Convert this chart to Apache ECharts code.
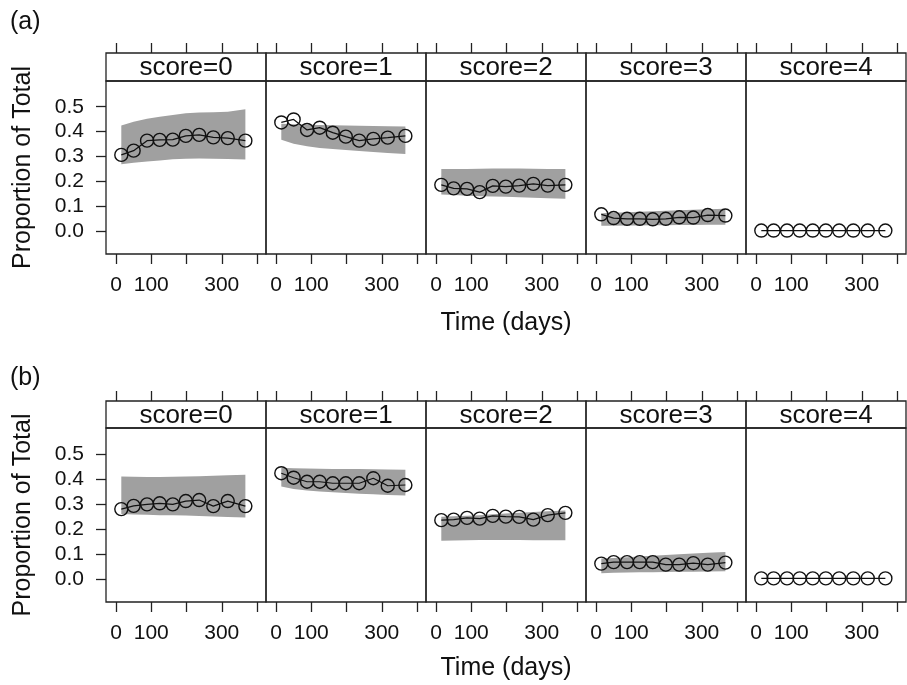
<!DOCTYPE html>
<html>
<head>
<meta charset="utf-8">
<script src="https://cdn.jsdelivr.net/npm/echarts@6/dist/echarts.min.js"></script>
<style>
html, body { margin: 0; padding: 0; background: #fff; }
#chart { width: 907px; height: 685px; }
</style>
</head>
<body>
<div id="chart"></div>
<script>
// 时间点 (days) 与刻度
const times = [15, 50, 88, 124, 161, 198, 236, 276, 317, 367];
const scores = ['score=0', 'score=1', 'score=2', 'score=3', 'score=4'];
const xTicks = [0, 100, 200, 300, 400];
const xLabels = [0, 100, 300];
const yTicks = [0, 0.1, 0.2, 0.3, 0.4, 0.5];

// (a) observed proportions and band
const obsA = [
    [0.307, 0.324, 0.364, 0.367, 0.368, 0.383, 0.387, 0.377, 0.374, 0.364],
    [0.437, 0.449, 0.407, 0.416, 0.396, 0.380, 0.364, 0.371, 0.376, 0.383],
    [0.187, 0.173, 0.171, 0.158, 0.183, 0.180, 0.184, 0.191, 0.184, 0.187],
    [0.069, 0.054, 0.051, 0.051, 0.049, 0.051, 0.057, 0.056, 0.066, 0.064],
    [0.004, 0.004, 0.004, 0.004, 0.004, 0.004, 0.004, 0.004, 0.004, 0.004]
];
const upA = [
    [0.425, 0.440, 0.452, 0.460, 0.467, 0.474, 0.477, 0.478, 0.480, 0.490],
    [0.432, 0.430, 0.428, 0.427, 0.426, 0.425, 0.424, 0.423, 0.422, 0.421],
    [0.250, 0.250, 0.250, 0.251, 0.252, 0.252, 0.252, 0.251, 0.250, 0.250],
    [0.073, 0.075, 0.077, 0.079, 0.081, 0.083, 0.085, 0.087, 0.089, 0.091],
    null
];
const loA = [
    [0.270, 0.276, 0.281, 0.285, 0.290, 0.292, 0.293, 0.292, 0.291, 0.289],
    [0.368, 0.352, 0.342, 0.335, 0.331, 0.327, 0.323, 0.319, 0.315, 0.311],
    [0.148, 0.146, 0.143, 0.141, 0.140, 0.139, 0.137, 0.135, 0.133, 0.131],
    [0.023, 0.023, 0.024, 0.024, 0.025, 0.025, 0.026, 0.026, 0.027, 0.027],
    null
];

// (b) observed proportions and band
const obsB = [
    [0.280, 0.293, 0.299, 0.303, 0.299, 0.312, 0.316, 0.292, 0.312, 0.292],
    [0.423, 0.405, 0.389, 0.389, 0.383, 0.383, 0.383, 0.403, 0.373, 0.376],
    [0.236, 0.238, 0.245, 0.242, 0.253, 0.250, 0.249, 0.238, 0.256, 0.265],
    [0.063, 0.069, 0.069, 0.069, 0.069, 0.059, 0.059, 0.065, 0.059, 0.067],
    [0.004, 0.004, 0.004, 0.004, 0.004, 0.004, 0.004, 0.004, 0.004, 0.004]
];
const upB = [
    [0.410, 0.409, 0.408, 0.408, 0.409, 0.410, 0.411, 0.413, 0.415, 0.417],
    [0.445, 0.443, 0.442, 0.441, 0.440, 0.440, 0.440, 0.439, 0.438, 0.437],
    [0.250, 0.252, 0.254, 0.256, 0.259, 0.262, 0.265, 0.268, 0.271, 0.274],
    [0.083, 0.085, 0.088, 0.091, 0.094, 0.097, 0.100, 0.103, 0.106, 0.109],
    null
];
const loB = [
    [0.260, 0.258, 0.257, 0.256, 0.256, 0.255, 0.253, 0.251, 0.249, 0.247],
    [0.370, 0.360, 0.354, 0.350, 0.347, 0.344, 0.341, 0.339, 0.336, 0.334],
    [0.154, 0.155, 0.156, 0.157, 0.157, 0.157, 0.157, 0.156, 0.156, 0.156],
    [0.025, 0.026, 0.027, 0.028, 0.028, 0.029, 0.030, 0.030, 0.031, 0.032],
    null
];

const rowsData = [
    { tag: '(a)', obs: obsA, up: upA, lo: loA },
    { tag: '(b)', obs: obsB, up: upB, lo: loB }
];

// 布局
const FONT = '"Liberation Sans", Arial, sans-serif';
const INK = '#111';
const colLeft = 106, colW = 160;
const rowLayout = [
    { stripTop: 53, plotTop: 81, plotBottom: 254, tagY: 22, titleY: 323 },
    { stripTop: 401, plotTop: 428, plotBottom: 602, tagY: 378, titleY: 668 }
];
const xMin = -28.4, xMax = 425.5;
const yMin = -0.09, yMax = 0.603;
const tickStyle = { color: '#222', width: 1.3 };

const grids = [], xAxes = [], yAxes = [], series = [], graphics = [];

// 区间带: 用 custom series 画成一个多边形
function bandRenderer(lo, up) {
    return function (params, api) {
        if (params.dataIndex !== 0) return null;
        const pts = [];
        for (let i = 0; i < times.length; i++) pts.push(api.coord([times[i], up[i]]));
        for (let i = times.length - 1; i >= 0; i--) pts.push(api.coord([times[i], lo[i]]));
        return { type: 'polygon', shape: { points: pts }, style: { fill: '#a0a0a0' } };
    };
}

rowsData.forEach((row, r) => {
    const L = rowLayout[r];
    scores.forEach((label, c) => {
        const left = colLeft + c * colW;
        // strip grid
        const si = grids.length;
        grids.push({
            left: left, top: L.stripTop, width: colW, height: L.plotTop - L.stripTop,
            show: true, borderColor: '#222', borderWidth: 1.3, backgroundColor: 'transparent',
            outerBoundsMode: 'none', containLabel: false
        });
        xAxes.push({
            gridIndex: si, type: 'value', position: 'top', min: xMin, max: xMax,
            axisLine: { show: false, onZero: false }, splitLine: { show: false },
            axisTick: { show: true, inside: false, length: 10, customValues: xTicks, lineStyle: tickStyle },
            axisLabel: { show: false }
        });
        yAxes.push({ gridIndex: si, type: 'value', show: false, min: 0, max: 1, axisLine: { onZero: false } });
        // plot grid
        const pi = grids.length;
        grids.push({
            left: left, top: L.plotTop, width: colW, height: L.plotBottom - L.plotTop,
            show: true, borderColor: '#222', borderWidth: 1.3, backgroundColor: 'transparent',
            outerBoundsMode: 'none', containLabel: false
        });
        xAxes.push({
            gridIndex: pi, type: 'value', position: 'bottom', min: xMin, max: xMax,
            axisLine: { show: false, onZero: false }, splitLine: { show: false },
            axisTick: { show: true, inside: false, length: 10, customValues: xTicks, lineStyle: tickStyle },
            axisLabel: { show: true, customValues: xLabels, margin: 21, fontSize: 21, color: INK, fontFamily: FONT }
        });
        yAxes.push({
            gridIndex: pi, type: 'value', position: 'left', min: yMin, max: yMax, show: c === 0,
            axisLine: { show: false, onZero: false }, splitLine: { show: false },
            axisTick: { show: true, inside: false, length: 10, customValues: yTicks, lineStyle: tickStyle },
            axisLabel: { show: true, customValues: yTicks, margin: 22, fontSize: 21, color: INK, fontFamily: FONT,
                formatter: v => v.toFixed(1) }
        });

        // 灰色区间带
        const lo = row.lo[c], up = row.up[c];
        if (lo && up) {
            series.push({
                type: 'custom', xAxisIndex: pi, yAxisIndex: pi, silent: true, z: 1,
                data: times.map((t, i) => [t, lo[i], up[i]]),
                renderItem: bandRenderer(lo, up)
            });
        }
        // 观测值
        series.push({
            type: 'line', xAxisIndex: pi, yAxisIndex: pi, silent: true,
            data: times.map((t, i) => [t, row.obs[c][i]]),
            symbol: 'circle', symbolSize: 13, showSymbol: true,
            itemStyle: { color: 'rgba(0,0,0,0)', borderColor: INK, borderWidth: 1.4 },
            lineStyle: { color: INK, width: 1.2 }, z: 3
        });

        // strip 标题
        graphics.push({
            type: 'text', x: left + colW / 2, y: (L.stripTop + L.plotTop) / 2 + 1,
            style: { text: label, font: '26px ' + FONT, fill: INK, textAlign: 'center', textVerticalAlign: 'middle' }
        });
    });

    graphics.push({
        type: 'text', x: 10, y: L.tagY,
        style: { text: row.tag, font: '25px ' + FONT, fill: INK, textAlign: 'left', textVerticalAlign: 'middle' }
    });
    graphics.push({
        type: 'text', x: 23, y: (L.plotTop + L.plotBottom) / 2, rotation: Math.PI / 2,
        style: { text: 'Proportion of Total', font: '25px ' + FONT, fill: INK, textAlign: 'center', textVerticalAlign: 'middle' }
    });
    graphics.push({
        type: 'text', x: colLeft + colW * scores.length / 2, y: L.titleY,
        style: { text: 'Time (days)', font: '25px ' + FONT, fill: INK, textAlign: 'center', textVerticalAlign: 'middle' }
    });
});

const chart = echarts.init(document.getElementById('chart'), null, { renderer: 'canvas' });
chart.setOption({
    animation: false,
    backgroundColor: '#fff',
    grid: grids,
    xAxis: xAxes,
    yAxis: yAxes,
    series: series,
    graphic: graphics
});
window.addEventListener('resize', function () { chart.resize(); });
</script>
</body>
</html>
